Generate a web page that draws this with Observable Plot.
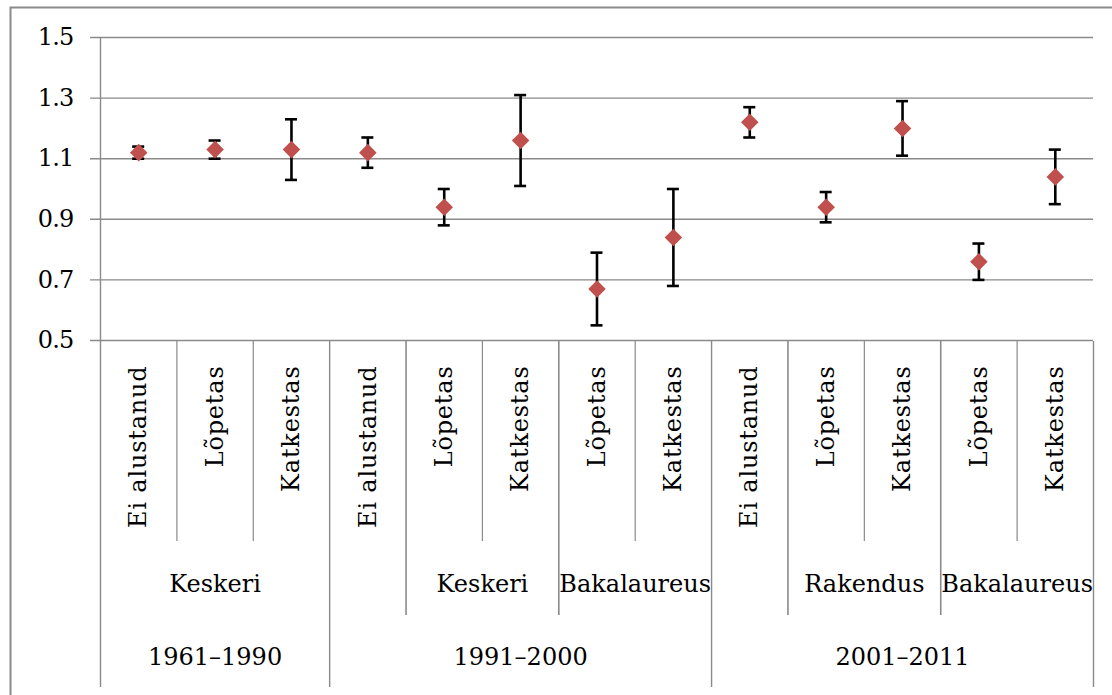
<!DOCTYPE html>
<html>
<head>
<meta charset="utf-8">
<script src="https://cdn.jsdelivr.net/npm/d3@7"></script>
<script src="https://cdn.jsdelivr.net/npm/@observablehq/plot@0.6"></script>
<style>
  html, body { margin: 0; padding: 0; background: white; }
</style>
</head>
<body>
<div id="chart"></div>
<script>
// ---- data ----
const leaves = ["Ei alustanud", "Lõpetas", "Katkestas", "Ei alustanud", "Lõpetas", "Katkestas", "Lõpetas", "Katkestas", "Ei alustanud", "Lõpetas", "Katkestas", "Lõpetas", "Katkestas"];
const levels = ["Keskeri", "Keskeri", "Keskeri", "", "Keskeri", "Keskeri", "Bakalaureus", "Bakalaureus", "", "Rakendus", "Rakendus", "Bakalaureus", "Bakalaureus"];
const periods = ["1961–1990", "1961–1990", "1961–1990", "1991–2000", "1991–2000", "1991–2000", "1991–2000", "1991–2000", "2001–2011", "2001–2011", "2001–2011", "2001–2011", "2001–2011"];
const values = [1.12, 1.13, 1.13, 1.12, 0.94, 1.16, 0.67, 0.84, 1.22, 0.94, 1.20, 0.76, 1.04];
const lower  = [1.10, 1.10, 1.03, 1.07, 0.88, 1.01, 0.55, 0.68, 1.17, 0.89, 1.11, 0.70, 0.95];
const upper  = [1.14, 1.16, 1.23, 1.17, 1.00, 1.31, 0.79, 1.00, 1.27, 0.99, 1.29, 0.82, 1.13];
const yTicks = [0.5, 0.7, 0.9, 1.1, 1.3, 1.5];

// ---- derived table ----
const rows = leaves.map((leaf, i) => ({i, leaf, level: levels[i], period: periods[i], value: values[i], lo: lower[i], hi: upper[i]}));

function runs(keyFn) {
  const out = [];
  rows.forEach((r, i) => {
    const k = keyFn(r);
    if (out.length && out[out.length - 1].key === k) out[out.length - 1].end = i + 1;
    else out.push({key: k, start: i, end: i + 1});
  });
  return out;
}
const levelRuns = runs(r => r.period + "|" + r.level).map(g => ({...g, label: g.key.split("|")[1], mid: (g.start + g.end) / 2}));
const periodRuns = runs(r => r.period).map(g => ({...g, label: g.key, mid: (g.start + g.end) / 2}));

const periodBounds = new Set(periodRuns.map(g => g.start).concat([rows.length]));
const levelBounds = new Set(levelRuns.map(g => g.start));
const leafDiv = [], levelDiv = [], periodDiv = [];
for (let k = 1; k <= rows.length; k++) {
  if (periodBounds.has(k)) periodDiv.push(k);
  else if (levelBounds.has(k)) levelDiv.push(k);
  else leafDiv.push(k);
}

const W = 1112, H = 695;
const grid = "#8a8a8a";
const FS = 24;
const FF = "DejaVu Serif";

const chart = Plot.plot({
  width: W,
  height: H,
  marginLeft: 100,
  marginRight: 19,
  marginTop: 0,
  marginBottom: 0,
  style: {background: "white", color: "black", fontFamily: FF},
  x: {type: "linear", domain: [0, rows.length], axis: null},
  y: {type: "linear", domain: [0.5, 1.5], range: [340, 37], axis: null},
  marks: [
    // outer chart border
    Plot.frame({insetLeft: -90, insetTop: 7, insetRight: -40, insetBottom: -20, stroke: grid, strokeWidth: 2}),
    // gridlines
    Plot.ruleY(yTicks, {insetLeft: -10, stroke: grid, strokeWidth: 1.4}),
    // y axis line
    Plot.ruleX([0], {insetTop: 37, insetBottom: H - 687, stroke: grid, strokeWidth: 1.4}),
    // category dividers
    Plot.ruleX(leafDiv, {insetTop: 341, insetBottom: H - 541, stroke: grid, strokeWidth: 1.2}),
    Plot.ruleX(levelDiv, {insetTop: 341, insetBottom: H - 615, stroke: grid, strokeWidth: 1.6}),
    Plot.ruleX(periodDiv, {insetTop: 341, insetBottom: H - 687, stroke: grid, strokeWidth: 1.4}),
    // y tick labels
    Plot.text(yTicks, {y: d => d, text: d => d3.format(".1f")(d), frameAnchor: "left", dx: -27, textAnchor: "end", fontSize: FS, fontFamily: FF, fill: "black"}),
    // leaf labels
    Plot.text(rows, {x: d => d.i + 0.5, text: "leaf", frameAnchor: "top", dy: 365, rotate: -90, textAnchor: "end", lineAnchor: "middle", fontSize: FS, fontFamily: FF, fill: "black"}),
    // level labels
    Plot.text(levelRuns.filter(g => g.label), {x: "mid", text: "label", frameAnchor: "top", dy: 584, lineAnchor: "middle", fontSize: FS, fontFamily: FF, fill: "black"}),
    // period labels
    Plot.text(periodRuns, {x: "mid", text: "label", frameAnchor: "top", dy: 657, lineAnchor: "middle", fontSize: FS, fontFamily: FF, fill: "black"}),
    // error bars
    Plot.ruleX(rows, {x: d => d.i + 0.5, y1: "lo", y2: "hi", stroke: "black", strokeWidth: 2.6}),
    Plot.ruleY(rows, {y: "lo", x1: d => d.i + 0.5, x2: d => d.i + 0.5, insetLeft: -6, insetRight: -6, stroke: "black", strokeWidth: 2.6}),
    Plot.ruleY(rows, {y: "hi", x1: d => d.i + 0.5, x2: d => d.i + 0.5, insetLeft: -6, insetRight: -6, stroke: "black", strokeWidth: 2.6}),
    // markers
    Plot.dot(rows, {x: d => d.i + 0.5, y: "value", symbol: "diamond2", r: 7.9, fill: "#c0504d", stroke: "none"})
  ]
});

// letter spacing per text group (order: y ticks, leaves, levels, periods)
const tg = chart.querySelectorAll('g[aria-label="text"]');
const spacing = [-0.8, 0.8, 0, 0];
tg.forEach((g, k) => { g.setAttribute("letter-spacing", spacing[k] ?? 0); });

document.getElementById("chart").appendChild(chart);
</script>
</body>
</html>
